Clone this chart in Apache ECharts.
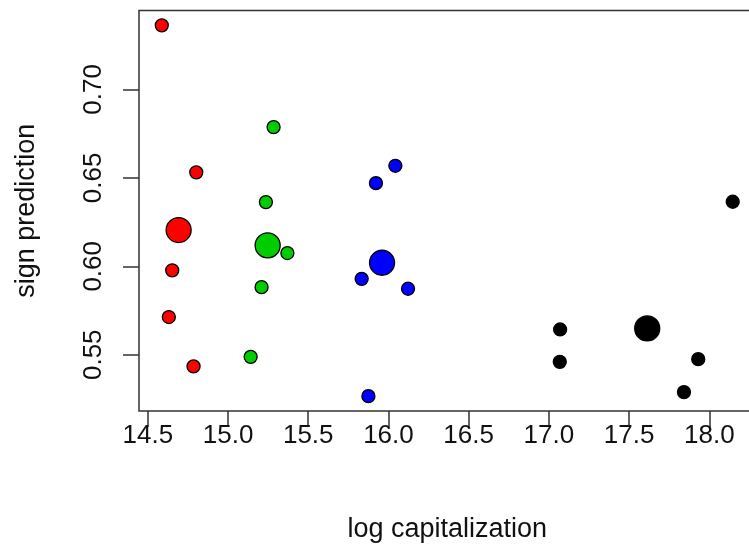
<!DOCTYPE html>
<html>
<head>
<meta charset="utf-8">
<script src="https://cdn.jsdelivr.net/npm/echarts@6/dist/echarts.min.js"></script>
<style>
html,body{margin:0;padding:0;background:#fff;}
#chart{width:749px;height:550px;}
</style>
</head>
<body>
<div id="chart"></div>
<script>
// Values
const redX   = [14.587, 14.802, 14.652, 14.631, 14.785];
const redY   = [0.7362, 0.6531, 0.5977, 0.5713, 0.5434];
const redMean = [14.692, 0.6205];

const greenX = [15.284, 15.236, 15.370, 15.209, 15.141];
const greenY = [0.6787, 0.6363, 0.6075, 0.5882, 0.5488];
const greenMean = [15.247, 0.6118];

const blueX  = [16.043, 15.922, 15.833, 16.122, 15.875];
const blueY  = [0.6568, 0.6470, 0.5929, 0.5873, 0.5266];
const blueMean = [15.960, 0.6020];

const blackX = [18.146, 17.070, 17.068, 17.931, 17.842];
const blackY = [0.6365, 0.5643, 0.5460, 0.5475, 0.5289];
const blackMean = [17.613, 0.5649];

const xTicks = [14.5, 15.0, 15.5, 16.0, 16.5, 17.0, 17.5, 18.0];
const yTicks = [0.55, 0.60, 0.65, 0.70];

const xLabel = 'log capitalization';
const yLabel = 'sign prediction';

const FONT = "'Liberation Sans', Arial, Helvetica, sans-serif";

function pairs(xs, ys) { return xs.map((x, i) => [x, ys[i]]); }

const groups = [
  {name: 'red',   color: '#FF0000', border: '#000', xs: redX,   ys: redY,   mean: redMean},
  {name: 'green', color: '#00CD00', border: '#000', xs: greenX, ys: greenY, mean: greenMean},
  {name: 'blue',  color: '#0000FF', border: '#000', xs: blueX,  ys: blueY,  mean: blueMean},
  {name: 'black', color: '#000000', border: '#000', xs: blackX, ys: blackY, mean: blackMean}
];

const series = [];
groups.forEach(g => {
  series.push({
    type: 'scatter', name: g.name + ' mean', data: [g.mean],
    symbol: 'circle', symbolSize: 25,
    itemStyle: {color: g.color, borderColor: g.border, borderWidth: 1.3, opacity: 1},
    emphasis: {disabled: true}, silent: true
  });
  series.push({
    type: 'scatter', name: g.name, data: pairs(g.xs, g.ys),
    symbol: 'circle', symbolSize: 13,
    itemStyle: {color: g.color, borderColor: g.border, borderWidth: 1.3, opacity: 1},
    emphasis: {disabled: true}, silent: true
  });
});

const chart = echarts.init(document.getElementById('chart'), null, {renderer: 'canvas'});
chart.setOption({
  animation: false,
  backgroundColor: '#ffffff',
  grid: {left: 139, top: 10.5, width: 616.5, height: 400.5, show: true,
         outerBoundsMode: 'none', containLabel: false,
         borderColor: '#333', borderWidth: 1.5, backgroundColor: 'transparent'},
  xAxis: {
    type: 'value', min: 14.445, max: 18.288,
    name: xLabel, nameLocation: 'middle', nameGap: 105,
    nameTextStyle: {fontFamily: FONT, fontSize: 27, color: '#111'},
    axisLine: {show: false},
    splitLine: {show: false},
    axisTick: {show: true, inside: false, length: 16, customValues: xTicks,
               lineStyle: {color: '#333', width: 1.5}},
    axisLabel: {show: true, customValues: xTicks, margin: 12,
                fontFamily: FONT, fontSize: 26, color: '#111',
                formatter: v => Number(v).toFixed(1)}
  },
  yAxis: {
    type: 'value', min: 0.5182, max: 0.7446,
    name: yLabel, nameLocation: 'middle', nameGap: 99, nameRotate: 90,
    nameTextStyle: {fontFamily: FONT, fontSize: 27, color: '#111'},
    axisLine: {show: false},
    splitLine: {show: false},
    axisTick: {show: true, inside: false, length: 16, customValues: yTicks,
               lineStyle: {color: '#333', width: 1.5}},
    axisLabel: {show: true, customValues: yTicks, margin: 32, rotate: 90,
                fontFamily: FONT, fontSize: 26, color: '#111',
                formatter: v => Number(v).toFixed(2)}
  },
  series: series
});
</script>
</body>
</html>
